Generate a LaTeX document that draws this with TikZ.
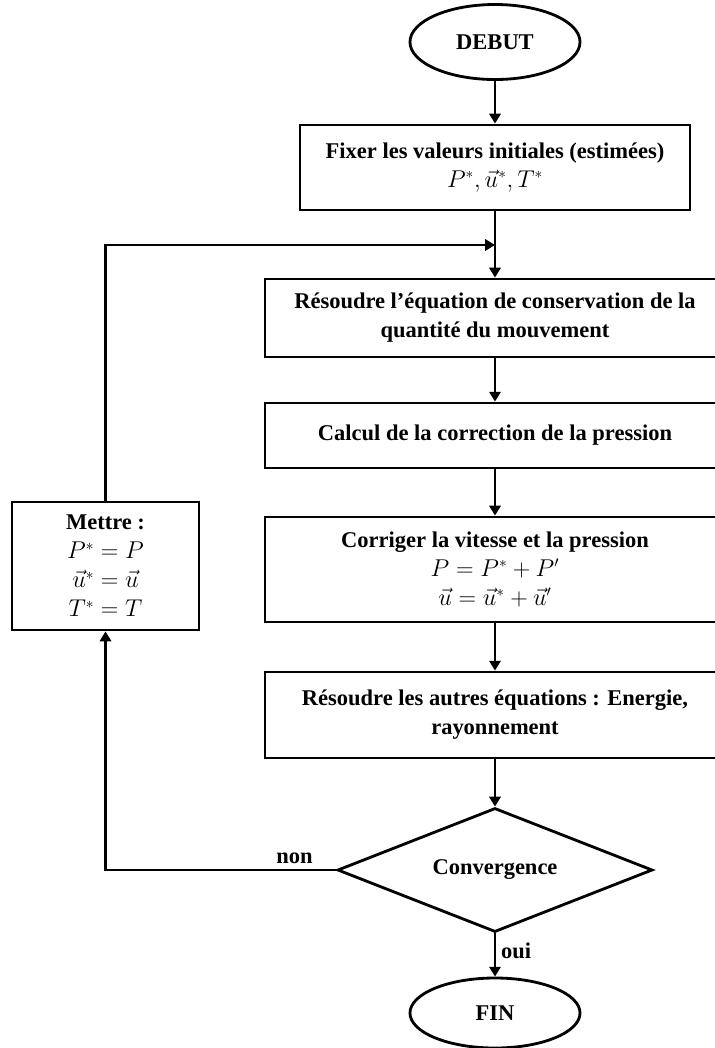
\documentclass[tikz,border=0pt]{standalone}
\usepackage{fontspec}
\setmainfont{Liberation Serif}
\usepackage{amsmath}
\usepackage{tikz}
\usetikzlibrary{arrows.meta, positioning, shapes.geometric}

\begin{document}
\begin{tikzpicture}[
  x=0.025cm, y=-0.025cm,
  every node/.style={font=\bfseries\fontsize{16}{20.6}\selectfont},
  box/.style={draw, line width=2pt, minimum width=11.5cm, align=center,
              inner sep=3pt, fill=white},
  term/.style={draw, ellipse, line width=2pt, minimum width=4.25cm},
  test/.style={draw, diamond, line width=2pt, aspect=2.5, inner sep=0pt,
               minimum width=7.875cm, minimum height=3.1cm},
  link/.style={line width=2pt},
  arr/.style={link, -{Triangle[length=7pt, width=8pt]}},
]
  \useasboundingbox (0,0) rectangle (715,1048);

  \node[term, minimum height=1.875cm] (debut) at (495, 42) {DEBUT};

  \node[box, minimum width=9.75cm, minimum height=2.125cm] (init) at (495, 167.5)
       {Fixer les valeurs initiales (estimées)\\
        $P^{*},\vec{u}^{*},T^{*}$};
  \draw[arr] (debut) -- (init);

  \coordinate (join) at (495, 245);
  \draw[link] (init) -- (join);

  \node[box, minimum height=1.95cm] (qdm) at (495, 318)
       {Résoudre l’équation de conservation de la\\quantité du mouvement};
  \draw[arr] (join) -- (qdm);

  \node[box, minimum height=1.625cm] (pcorr) at (495, 435.5)
       {Calcul de la correction de la pression};
  \draw[arr] (qdm) -- (pcorr);

  \node[box, minimum height=2.625cm] (corr) at (495, 569.5)
       {Corriger la vitesse et la pression\\
        $P = P^{*} + P'$\\
        $\vec{u} = \vec{u}^{*} + \vec{u}'$};
  \draw[arr] (pcorr) -- (corr);

  \node[box, minimum height=2.15cm] (autres) at (495, 715)
       {Résoudre les autres équations : Energie,\\rayonnement};
  \draw[arr] (corr) -- (autres);

  \node[test] (conv) at (495, 870) {Convergence};
  \draw[arr] (autres) -- (conv);

  \node[term, minimum height=1.75cm] (fin) at (495, 1013) {FIN};
  \draw[arr] (conv) -- node[right, pos=0.4] {oui} (fin);

  \node[box, minimum width=4.675cm, minimum height=3.2cm] (maj) at (105.5, 566)
       {Mettre :\\
        $P^{*} = P$\\
        $\vec{u}^{*} = \vec{u}$\\
        $T^{*} = T$};
  \draw[arr] (conv.west) -| node[above, pos=0.09] {non} (maj.south);
  \draw[arr] (maj.north) |- (join);
\end{tikzpicture}
\end{document}
